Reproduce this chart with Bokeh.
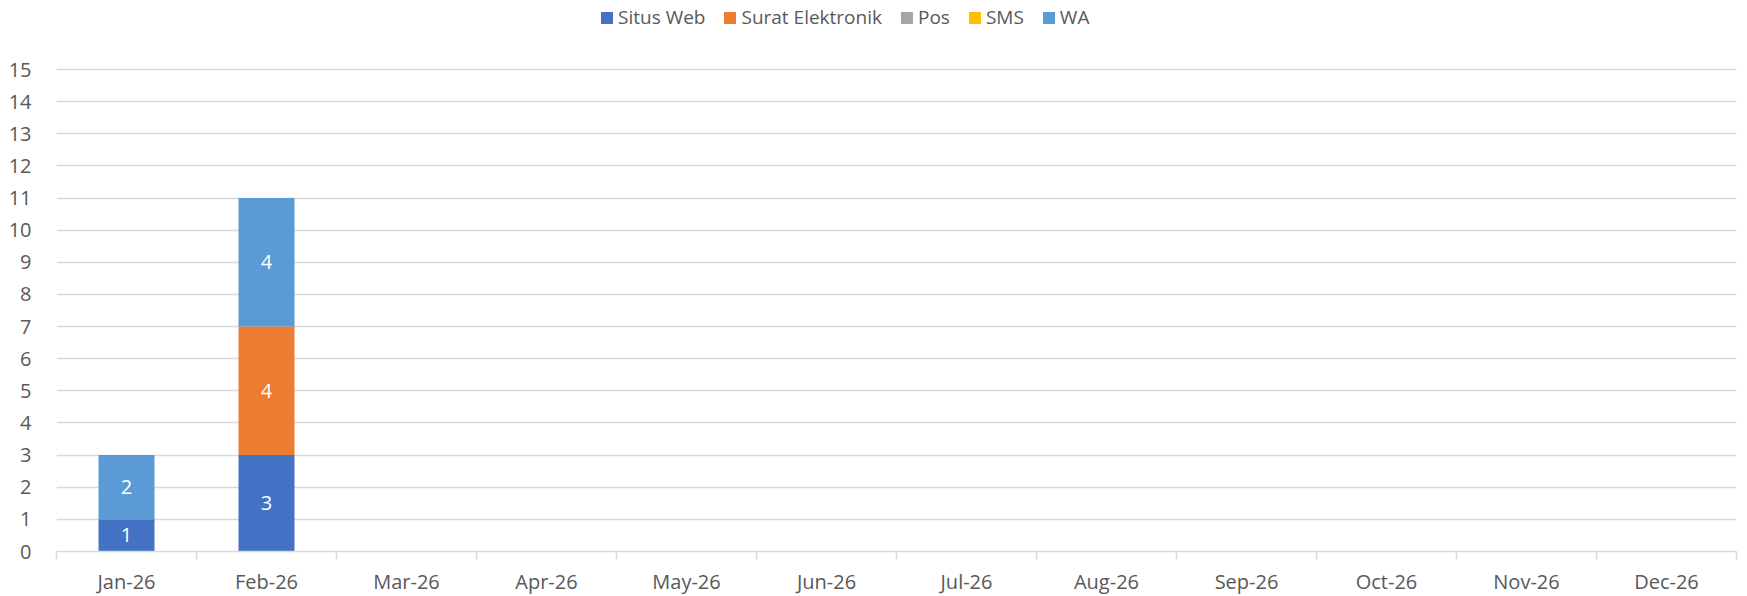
from bokeh.plotting import figure
from bokeh.models import (ColumnDataSource, Legend, LegendItem, FixedTicker,
                          Range1d, LabelSet)
from bokeh.core.properties import value
from bokeh.embed import file_html
from bokeh.resources import INLINE

months = ["Jan-26", "Feb-26", "Mar-26", "Apr-26", "May-26", "Jun-26",
          "Jul-26", "Aug-26", "Sep-26", "Oct-26", "Nov-26", "Dec-26"]
situs_web = [1, 3, 0, 0, 0, 0, 0, 0, 0, 0, 0, 0]
surat_elektronik = [0, 4, 0, 0, 0, 0, 0, 0, 0, 0, 0, 0]
pos = [0, 0, 0, 0, 0, 0, 0, 0, 0, 0, 0, 0]
sms = [0, 0, 0, 0, 0, 0, 0, 0, 0, 0, 0, 0]
wa = [2, 4, 0, 0, 0, 0, 0, 0, 0, 0, 0, 0]

series_names = ["Situs Web", "Surat Elektronik", "Pos", "SMS", "WA"]
series_vals = [situs_web, surat_elektronik, pos, sms, wa]
colors = ["#4472C4", "#ED7D31", "#A5A5A5", "#FFC000", "#5B9BD5"]
y_ticks = list(range(0, 16))

FONT = "Open Sans"
TXT = "#595959"
GRID = "#D9D9D9"

xpos = [i + 0.5 for i in range(len(months))]
data = {"x": xpos}
for n, v in zip(series_names, series_vals):
    data[n] = v
src = ColumnDataSource(data)

# frame spans from the page top; the value axis tops out at 15 (482 px),
# the extra headroom holds the legend
p = figure(frame_width=1680, frame_height=551, output_backend="svg",
           toolbar_location=None,
           x_range=Range1d(0, len(months)), y_range=Range1d(0, 15 * 551 / 482),
           min_border_left=56, min_border_right=11, min_border_top=0,
           min_border_bottom=45)
p.outline_line_color = None

rs = p.vbar_stack(series_names, x="x", width=0.4, source=src, color=colors,
                  line_color=None)

# data labels (non-zero only), centered within each segment
lx, ly, lt = [], [], []
for i in range(len(months)):
    base = 0
    for v in series_vals:
        val = v[i]
        if val:
            lx.append(xpos[i]); ly.append(base + val / 2); lt.append(str(val))
        base += val
lab_src = ColumnDataSource(dict(x=lx, y=ly, t=lt))
p.add_layout(LabelSet(x="x", y="y", text="t", source=lab_src,
                      text_align="center", text_baseline="middle",
                      text_color="white", text_font=value(FONT),
                      text_font_size="20px"))

# axes
xa = p.xaxis[0]
xa.ticker = FixedTicker(ticks=xpos, minor_ticks=list(range(0, len(months) + 1)))
xa.major_label_overrides = {x: m for x, m in zip(xpos, months)}
xa.major_tick_out = 0
xa.major_tick_in = 0
xa.minor_tick_out = 8
xa.minor_tick_in = 0
xa.minor_tick_line_color = GRID
xa.minor_tick_line_width = 1.5
xa.axis_line_color = GRID
xa.axis_line_width = 1.5
xa.major_label_text_font = FONT
xa.major_label_text_font_size = "20px"
xa.major_label_text_color = TXT
xa.major_label_standoff = 8

ya = p.yaxis[0]
ya.ticker = FixedTicker(ticks=y_ticks)
ya.axis_line_color = None
ya.major_tick_line_color = None
ya.minor_tick_line_color = None
ya.major_label_text_font = FONT
ya.major_label_text_font_size = "20px"
ya.major_label_text_color = TXT
ya.major_label_standoff = 19

p.xgrid.grid_line_color = None
p.ygrid.grid_line_color = GRID
p.ygrid.grid_line_width = 1.5

legend = Legend(items=[LegendItem(label=n, renderers=[r]) for n, r in zip(series_names, rs)],
                orientation="horizontal", location=(543, 521),
                padding=0, margin=0, spacing=17, label_standoff=4,
                glyph_width=15, glyph_height=15,
                label_text_font=FONT, label_text_font_size="19px",
                label_text_color=TXT, border_line_color=None,
                background_fill_alpha=0)
p.add_layout(legend, "center")

open("out.html", "w").write(file_html(p, INLINE))
